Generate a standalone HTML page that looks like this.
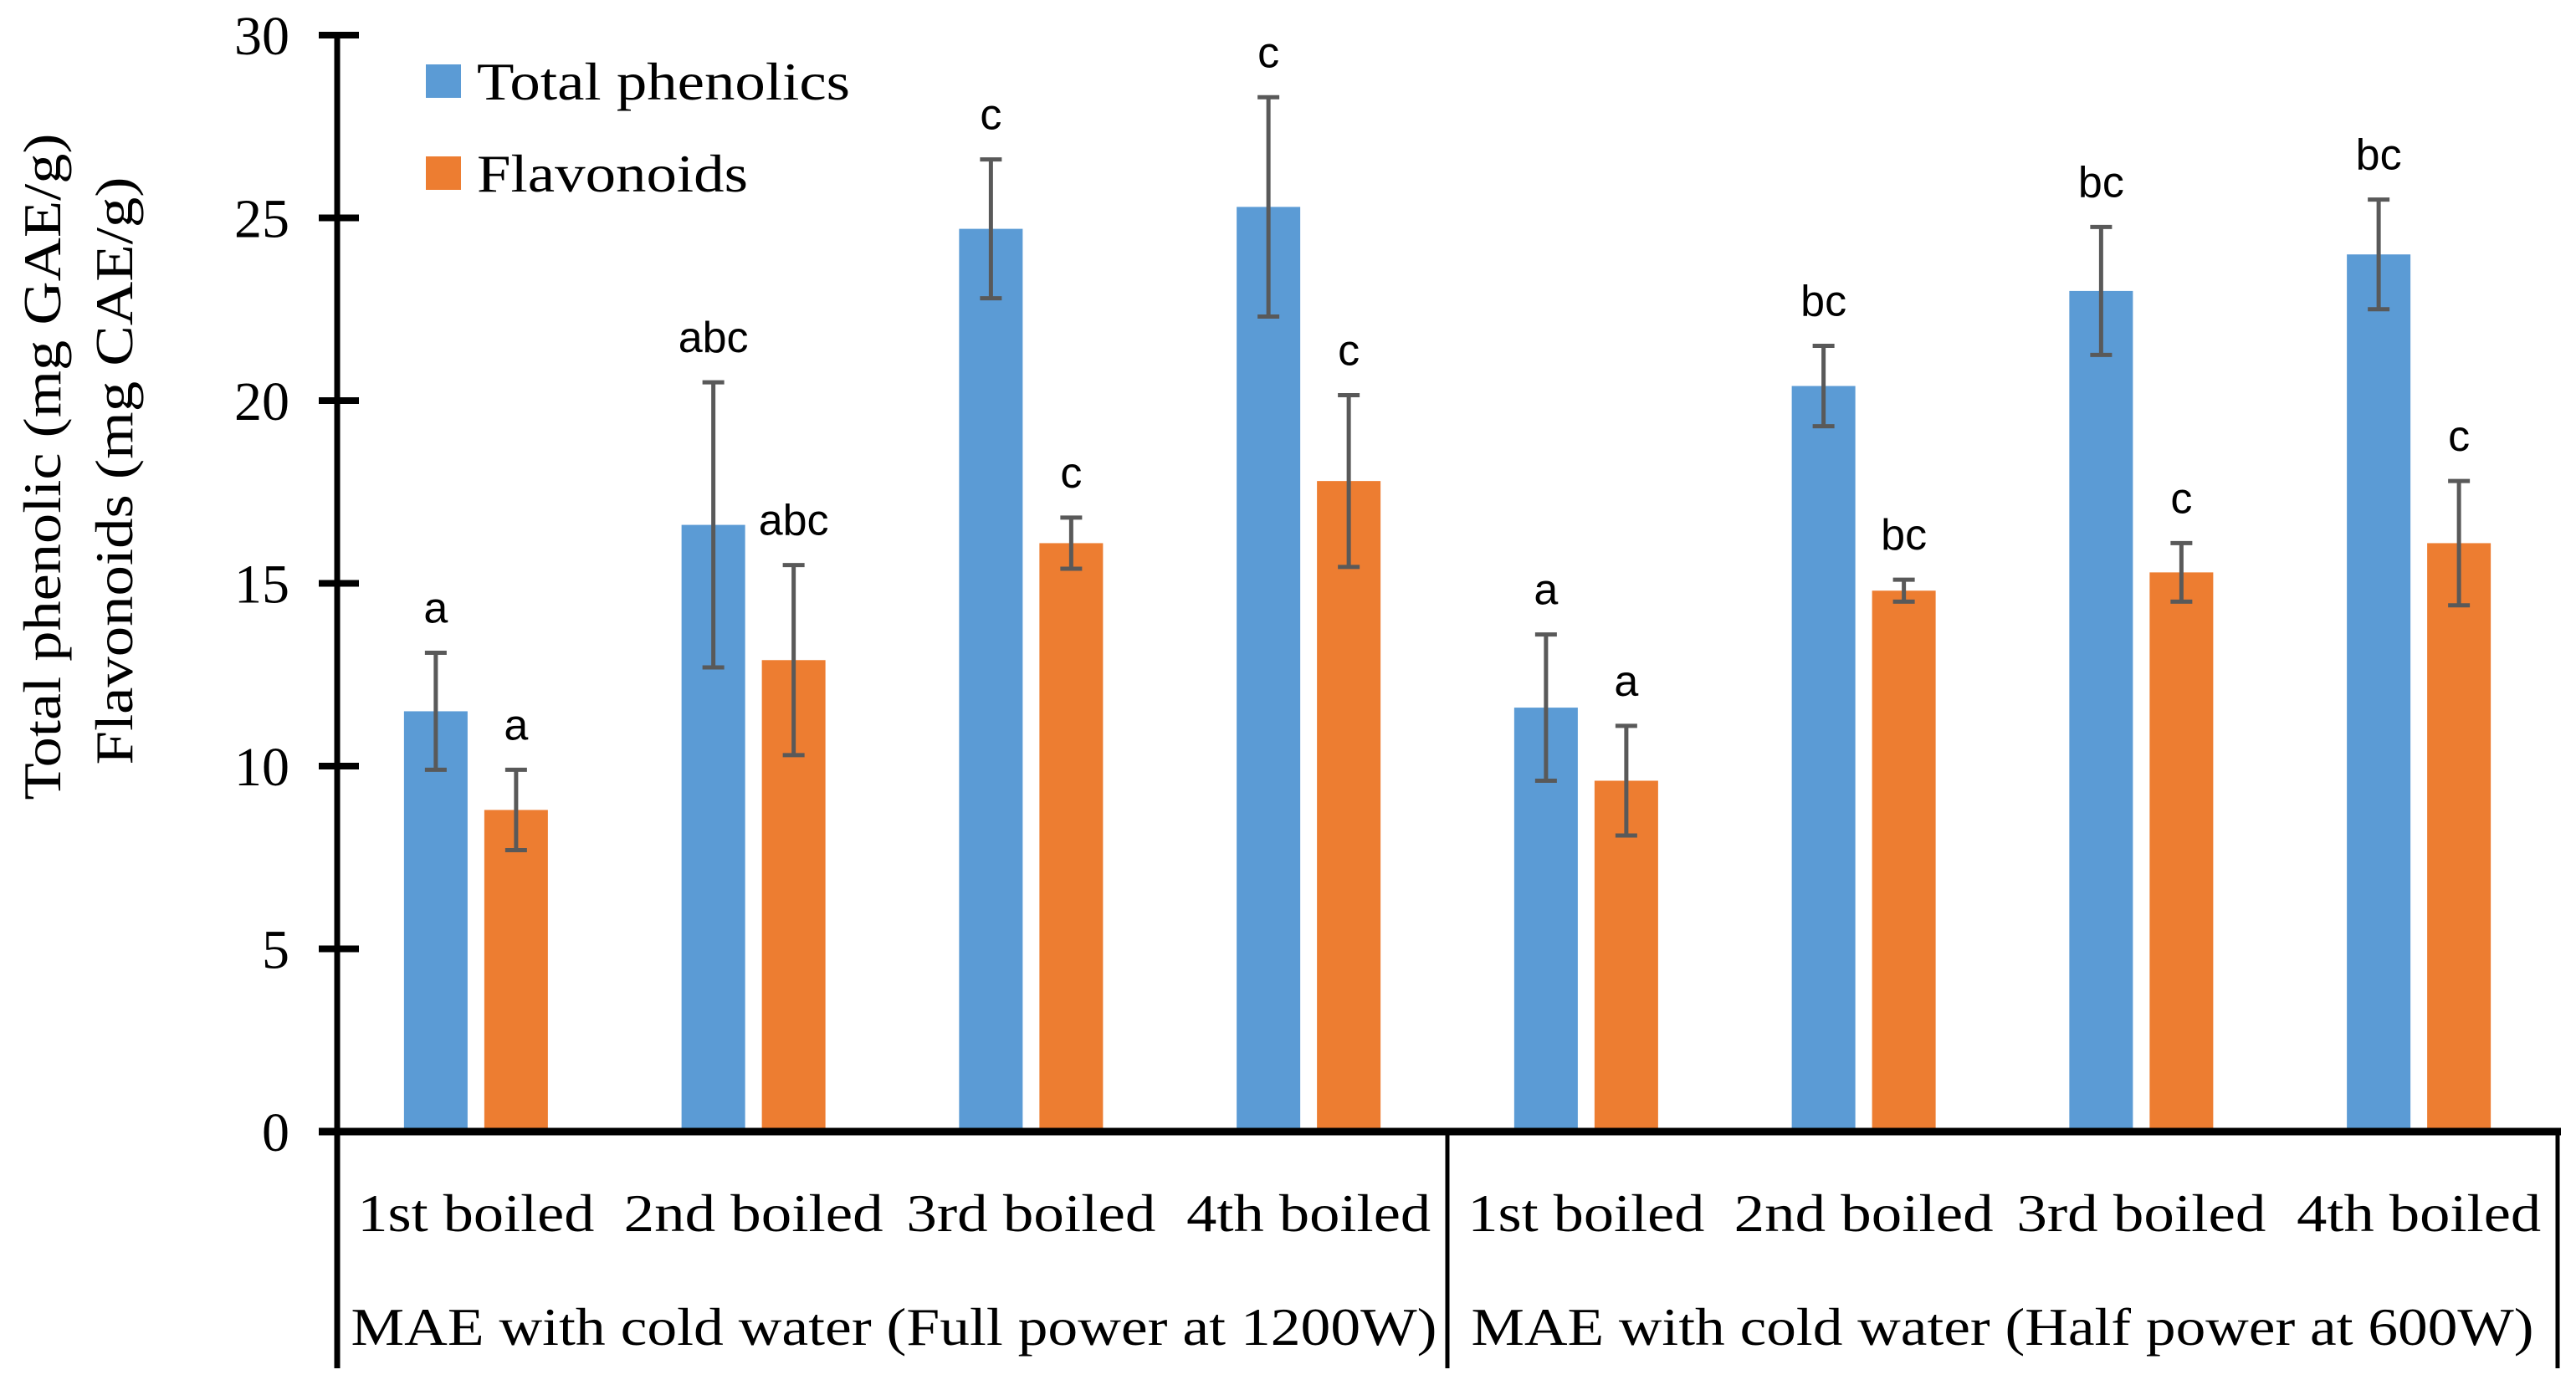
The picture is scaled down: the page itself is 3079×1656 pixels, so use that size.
<!DOCTYPE html>
<html><head><meta charset="utf-8"><style>
html,body{margin:0;padding:0;background:#fff;}
svg{display:block;}
</style></head><body>
<svg id="chart" width="3079" height="1656" viewBox="0 0 3079 1656" xmlns="http://www.w3.org/2000/svg">
<g id="plot"></g>
</svg>
<script>
const categories = ["1st boiled","2nd boiled","3rd boiled","4th boiled","1st boiled","2nd boiled","3rd boiled","4th boiled"];
const groups = ["MAE with cold water (Full power at 1200W)","MAE with cold water (Half power at 600W)"];
const phenolics = [11.5,16.6,24.7,25.3,11.6,20.4,23.0,24.0];
const phenolicsErr = [1.6,3.9,1.9,3.0,2.0,1.1,1.75,1.5];
const phenolicsLetters = ["a","abc","c","c","a","bc","bc","bc"];
const flavonoids = [8.8,12.9,16.1,17.8,9.6,14.8,15.3,16.1];
const flavonoidsErr = [1.1,2.6,0.7,2.35,1.5,0.3,0.8,1.7];
const flavonoidsLetters = ["a","abc","c","c","a","bc","c","c"];
const yTicks = [0,5,10,15,20,25,30];

const NS="http://www.w3.org/2000/svg";
const g=document.getElementById('plot');
const X0=403, X1=3057, Y0=1353, Y30=42;
const yScale=v=>Y0-(v/30)*(Y0-Y30);
const catW=(X1-X0)/categories.length;
const xCenter=i=>X0+catW*(i+0.5);
function mk(tag,attrs,text){const e=document.createElementNS(NS,tag);for(const k in attrs)e.setAttribute(k,attrs[k]);if(text!==undefined)e.textContent=text;g.appendChild(e);return e;}
const serif='"Liberation Serif", serif', sans='"Liberation Sans", sans-serif';
const catLen=[283,310,298,292,283,310,298,292];

yTicks.forEach(t=>{
  const y=yScale(t);
  const tk=mk('line',{x1:381,x2:429,y1:y,y2:y,stroke:'#000','stroke-width':8});
  
  
  const lb=mk('text',{x:346,y:y+23,'text-anchor':'end','font-family':serif,'font-size':66,fill:'#000'},String(t));
  
  
});
const ya=mk('line',{x1:X0,x2:X0,y1:38,y2:1636,stroke:'#000','stroke-width':7});



function drawSeries(vals,errs,letters,color,off,name){
  vals.forEach((v,i)=>{
    const cx=xCenter(i)+off, w=76;
    const r=mk('rect',{x:cx-w/2,y:yScale(v),width:w,height:Y0-yScale(v),fill:color});
    
    
    const top=yScale(v+errs[i]), bot=yScale(v-errs[i]);
    const eb=mk('path',{d:`M${cx},${top}V${bot}M${cx-13},${top}H${cx+13}M${cx-13},${bot}H${cx+13}`,stroke:'#595959','stroke-width':5,fill:'none'});
    
    
    const lt=mk('text',{x:cx,y:top-36,'text-anchor':'middle','font-family':sans,'font-size':52,fill:'#000'},letters[i]);
    
    
  });
}
drawSeries(phenolics,phenolicsErr,phenolicsLetters,'#5B9BD5',-48,'phenolics');
drawSeries(flavonoids,flavonoidsErr,flavonoidsLetters,'#ED7D31',48,'flavonoids');

const xa=mk('line',{x1:381,x2:X1+4,y1:Y0,y2:Y0,stroke:'#000','stroke-width':9});


[1730,X1].forEach(x=>{
  const d=mk('line',{x1:x,x2:x,y1:Y0,y2:1636,stroke:'#000','stroke-width':5});
  
  
});
categories.forEach((c,i)=>{
  const t=mk('text',{x:xCenter(i),y:1472,'text-anchor':'middle','font-family':serif,'font-size':64,fill:'#000',textLength:catLen[i],lengthAdjust:'spacingAndGlyphs'},c);
  
  
});
const grpLen=[1298,1270];
groups.forEach((s,i)=>{
  const cx=i===0?(X0+1730)/2+2:(1730+X1)/2;
  const t=mk('text',{x:cx,y:1608,'text-anchor':'middle','font-family':serif,'font-size':64,fill:'#000',textLength:grpLen[i],lengthAdjust:'spacingAndGlyphs'},s);
  
  
});

const t1=mk('text',{x:0,y:0,transform:'translate(72,558) rotate(-90)','text-anchor':'middle','font-family':serif,'font-size':64,fill:'#000',textLength:797,lengthAdjust:'spacingAndGlyphs'},'Total phenolic (mg GAE/g)');


const t2=mk('text',{x:0,y:0,transform:'translate(158,563) rotate(-90)','text-anchor':'middle','font-family':serif,'font-size':64,fill:'#000',textLength:703,lengthAdjust:'spacingAndGlyphs'},'Flavonoids (mg CAE/g)');



const l1=mk('rect',{x:509,y:77,width:42,height:40,fill:'#5B9BD5'});


const l1t=mk('text',{x:570,y:119,'font-family':serif,'font-size':64,fill:'#000',textLength:446,lengthAdjust:'spacingAndGlyphs'},'Total phenolics');


const l2=mk('rect',{x:509,y:187,width:42,height:40,fill:'#ED7D31'});


const l2t=mk('text',{x:570,y:229,'font-family':serif,'font-size':64,fill:'#000',textLength:324,lengthAdjust:'spacingAndGlyphs'},'Flavonoids');


</script>
</body></html>
